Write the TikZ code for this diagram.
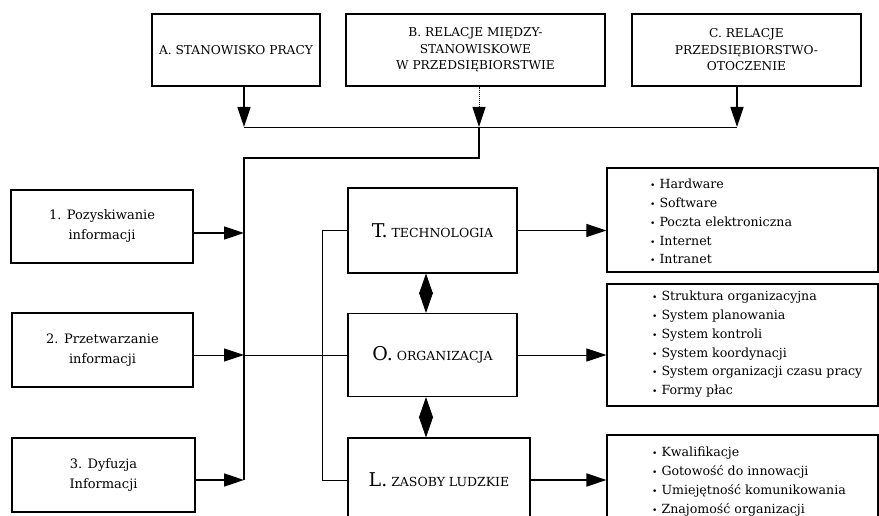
\documentclass[tikz,border=0pt]{standalone}
\usepackage{fontspec}
\setmainfont{DejaVu Serif}
\usetikzlibrary{arrows.meta,calc}
\newcommand{\bul}{{\fontsize{9}{9}\selectfont\textbullet}\hspace{4pt}}
\newcommand{\capsz}[1]{{\fontsize{12.5}{14}\selectfont #1}}
\newcommand{\bigini}[1]{{\fontsize{19}{19}\selectfont #1}}
\begin{document}
\begin{tikzpicture}[x=1pt,y=-1pt,
  box/.style={draw,line width=1.1pt,inner sep=0pt,align=center,
    font=\fontsize{12.2}{16.5}\selectfont},
  procbox/.style={box,font=\fontsize{13}{20}\selectfont},
  listtxt/.style={anchor=north west,inner sep=0pt,align=left,
    font=\fontsize{12.6}{18.8}\selectfont},
  thick line/.style={line width=1.6pt},
  thin line/.style={line width=0.9pt},
  tip/.style={-{Triangle[length=20pt,width=13pt]}},
  diam/.style={{Triangle[length=20.5pt,width=14pt]}-{Triangle[length=20.5pt,width=14pt]},line width=0.8pt}
]
\clip (0,0) rectangle (879,516);
\fill[white] (0,0) rectangle (879,516);

% top row
\node[box,minimum width=168pt,minimum height=72pt] (A) at (236,50)
  {A. STANOWISKO PRACY};
\node[box,minimum width=259pt,minimum height=72pt] (B) at (475.5,50)
  {B. RELACJE MIĘDZY-\\STANOWISKOWE\\W PRZEDSIĘBIORSTWIE};
\node[box,minimum width=229pt,minimum height=72pt] (C) at (746.5,50)
  {C. RELACJE\\PRZEDSIĘBIORSTWO-\\OTOCZENIE};

% information processes
\node[procbox,minimum width=182pt,minimum height=73pt] (P1) at (102,226.5)
  {1. Pozyskiwanie\\informacji};
\node[procbox,minimum width=181pt,minimum height=74pt] (P2) at (102.5,350)
  {2. Przetwarzanie\\informacji};
\node[procbox,minimum width=183pt,minimum height=74pt] (P3) at (103.5,475)
  {3. Dyfuzja\\Informacji};

% central areas
\node[box,minimum width=169pt,minimum height=85pt] (T) at (432.5,230.5)
  {\bigini{T.} \capsz{TECHNOLOGIA}};
\node[box,minimum width=169pt,minimum height=83pt] (O) at (432.5,355)
  {\bigini{O.} \capsz{ORGANIZACJA}};
\node[box,minimum width=182pt,minimum height=84pt] (L) at (439,480)
  {\bigini{L.} \capsz{ZASOBY LUDZKIE}};

% detail lists
\node[box,minimum width=271pt,minimum height=104pt] (R1) at (742.5,220) {};
\node[box,minimum width=271pt,minimum height=122pt] (R2) at (742.5,345) {};
\node[box,minimum width=271pt,minimum height=92pt] (R3) at (742.5,481) {};
\node[listtxt] (R1t) at (650,179)
  {\bul Hardware\\\bul Software\\\bul Poczta elektroniczna\\\bul Internet\\\bul Intranet};
\node[listtxt] (R2t) at (652,291)
  {\bul Struktura organizacyjna\\\bul System planowania\\\bul System kontroli\\\bul System koordynacji\\\bul System organizacji czasu pracy\\\bul Formy płac};
\node[listtxt] (R3t) at (652,447)
  {\bul Kwalifikacje\\\bul Gotowość do innowacji\\\bul Umiejętność komunikowania\\\bul Znajomość organizacji};

% junction points
\coordinate (jA) at (244,127);
\coordinate (jB) at (479,127);
\coordinate (jC) at (737,127);
\coordinate (bend) at (479,158);
\coordinate (spine) at (244,158);
\coordinate (s1) at (244,233);
\coordinate (s2) at (244,355);
\coordinate (s3) at (244,480);
\coordinate (side) at (322,230.5);
\coordinate (sideL) at (322,480);

% inflow from the three levels
\draw[thick line,tip] (jA |- A.south) -- (jA);
\draw[thin line,densely dotted,tip] (jB |- B.south) -- (jB);
\draw[thick line,tip] (jC |- C.south) -- (jC);
\draw[thin line] (jA) -- (jC);
\draw[thick line] (jB) -- (bend) -- (spine) -- (s3);

% information processes into the spine
\draw[thick line,tip] (P1.east |- s1) -- (s1);
\draw[thin line,tip] (P2.east |- s2) -- (s2);
\draw[thick line,tip] (P3.east |- s3) -- (s3);
\draw[thin line] (s2) -- (O.west);

% side link T -- L
\draw[thin line] (T.west) -- (side) -- (sideL) -- (L.west);

% mutual relations
\draw[diam] (426,0 |- T.south) -- (426,0 |- O.north);
\draw[diam] (426,0 |- O.south) -- (426,0 |- L.north);

% outflow to lists
\draw[thin line,tip] (T.east) -- (R1.west |- T.east);
\draw[thin line,tip] (O.east) -- (R2.west |- O.east);
\draw[thick line,tip] (L.east) -- (R3.west |- L.east);
\end{tikzpicture}
\end{document}
